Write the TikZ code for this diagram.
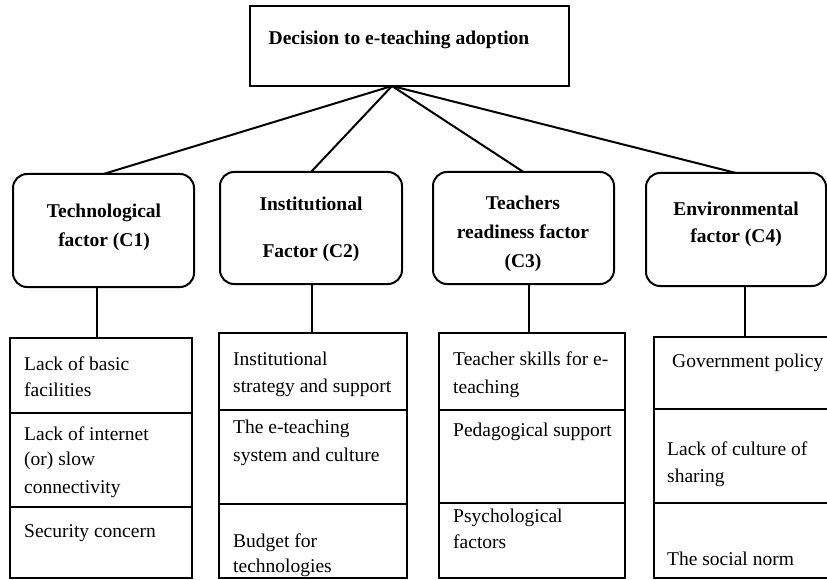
\documentclass[tikz,border=0pt]{standalone}
\usepackage{fontspec}
\setmainfont{Liberation Serif}
\begin{document}
\begin{tikzpicture}[x=1pt,y=-1pt,
  boxline/.style={draw, line width=2pt, inner sep=0pt, outer sep=0pt},
  topbox/.style={boxline, rectangle},
  catbox/.style={boxline, rectangle, rounded corners=14pt},
  cell/.style={boxline, rectangle},
  conn/.style={line width=2pt},
  txt/.style={font=\fontsize{19.5}{24}\selectfont, inner sep=0pt, anchor=base west},
  hdr/.style={font=\fontsize{19.5}{24}\selectfont\bfseries, inner sep=0pt, anchor=base}]
\useasboundingbox (0,0) rectangle (827,580);
\clip (0,0) rectangle (827,580);
% top box
\node[topbox, minimum width=319pt, minimum height=80pt] (top) at (409.5,46) {};
\node[hdr] (ttop) at (399,45) {Decision to e-teaching adoption};
\coordinate (hub) at (392,86);
% category boxes
\node[catbox, minimum width=181pt, minimum height=113pt] (t1) at (103.5,230.5) {};
\node[catbox, minimum width=182pt, minimum height=112pt] (t2) at (311,228) {};
\node[catbox, minimum width=181pt, minimum height=112pt] (t3) at (523.5,228) {};
\node[catbox, minimum width=180pt, minimum height=113pt] (t4) at (736,229.5) {};
\draw[conn] (hub) -- (t1.north);
\draw[conn] (hub) -- (t2.north);
\draw[conn] (hub) -- (t3.north);
\draw[conn] (hub) -- (t4.north);
\node[hdr] (h11) at (104,218) {Technological};
\node[hdr] (h12) at (104,246) {factor (C1)};
\node[hdr] (h21) at (311,211) {Institutional};
\node[hdr] (h22) at (311,257) {Factor (C2)};
\node[hdr] (h31) at (523,210) {Teachers};
\node[hdr] (h32) at (523,239) {readiness factor};
\node[hdr] (h33) at (523,267) {(C3)};
\node[hdr] (h41) at (736,215) {Environmental};
\node[hdr] (h42) at (736,243) {factor (C4)};
% cells column 1
\node[cell, minimum width=182pt, minimum height=75pt] (a1) at (101,375.5) {};
\node[cell, minimum width=182pt, minimum height=94pt] (a2) at (101,460) {};
\node[cell, minimum width=182pt, minimum height=71pt] (a3) at (101,542.5) {};
% column 2
\node[cell, minimum width=188pt, minimum height=77pt] (b1) at (313,371.5) {};
\node[cell, minimum width=188pt, minimum height=94pt] (b2) at (313,457) {};
\node[cell, minimum width=188pt, minimum height=74pt] (b3) at (313,541) {};
% column 3
\node[cell, minimum width=186pt, minimum height=77pt] (c1) at (532,371.5) {};
\node[cell, minimum width=186pt, minimum height=93pt] (c2) at (532,456.5) {};
\node[cell, minimum width=186pt, minimum height=75pt] (c3) at (532,540.5) {};
% column 4
\node[cell, minimum width=181pt, minimum height=72pt] (d1) at (744.5,373) {};
\node[cell, minimum width=181pt, minimum height=94pt] (d2) at (744.5,456) {};
\node[cell, minimum width=181pt, minimum height=75pt] (d3) at (744.5,540.5) {};
% vertical connectors
\coordinate (v1) at (97,0);
\coordinate (v2) at (312,0);
\coordinate (v3) at (529,0);
\coordinate (v4) at (745,0);
\draw[conn] (v1 |- t1.south) -- (v1 |- a1.north);
\draw[conn] (v2 |- t2.south) -- (v2 |- b1.north);
\draw[conn] (v3 |- t3.south) -- (v3 |- c1.north);
\draw[conn] (v4 |- t4.south) -- (v4 |- d1.north);
% cell texts
\node[txt] (la1) at (24,370) {Lack of basic};
\node[txt] (la2) at (24,396) {facilities};
\node[txt] (la3) at (24,440) {Lack of internet};
\node[txt] (la4) at (24,465) {(or) slow};
\node[txt] (la5) at (24,493) {connectivity};
\node[txt] (la6) at (24,537) {Security concern};
\node[txt] (lb1) at (233,365) {Institutional};
\node[txt] (lb2) at (233,392) {strategy and support};
\node[txt] (lb3) at (233,433) {The e-teaching};
\node[txt] (lb4) at (233,461) {system and culture};
\node[txt] (lb5) at (233,547) {Budget for};
\node[txt] (lb6) at (233,572) {technologies};
\node[txt] (lc1) at (453,365) {Teacher skills for e-};
\node[txt] (lc2) at (453,393) {teaching};
\node[txt] (lc3) at (453,436) {Pedagogical support};
\node[txt] (lc4) at (453,522) {Psychological};
\node[txt] (lc5) at (453,548) {factors};
\node[txt] (ld1) at (672,367) {Government policy};
\node[txt] (ld2) at (667,455) {Lack of culture of};
\node[txt] (ld3) at (667,482) {sharing};
\node[txt] (ld4) at (667,565) {The social norm};
\end{tikzpicture}
\end{document}
